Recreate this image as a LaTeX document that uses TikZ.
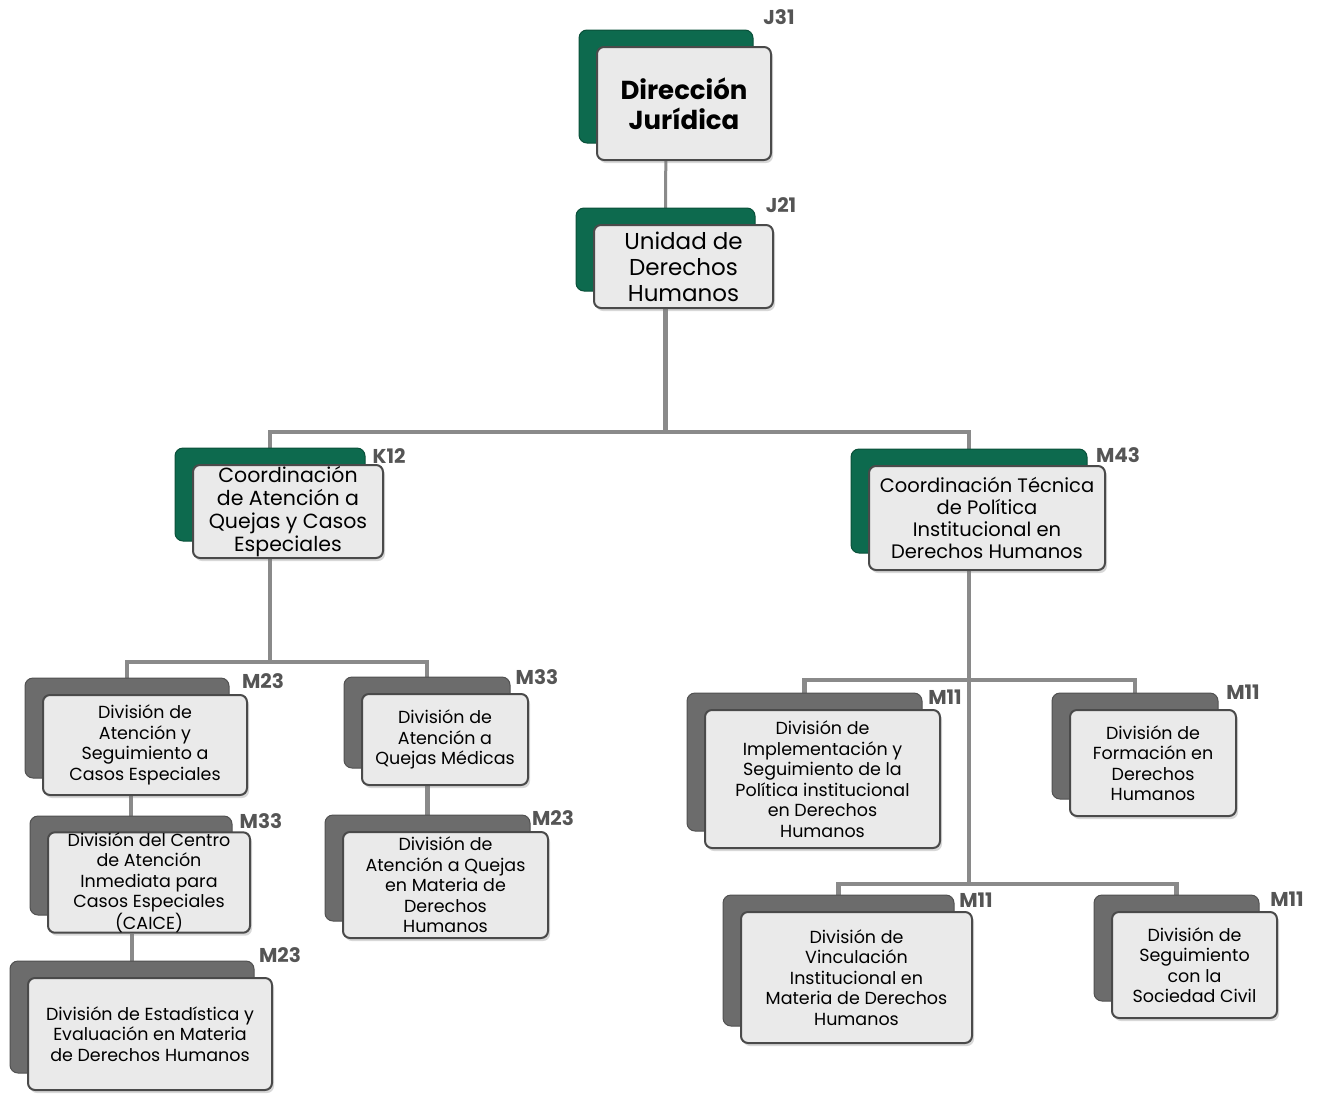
\documentclass[tikz,border=0pt]{standalone}
\usepackage{fontspec}
\setmainfont{Poppins}
\usetikzlibrary{shadows,calc}
\pgfdeclarelayer{bg}\pgfsetlayers{bg,main}
\definecolor{dgreen}{HTML}{0D6A4E}
\definecolor{bgray}{HTML}{6C6C6C}
\definecolor{fbox}{HTML}{EAEAEA}
\definecolor{bord}{HTML}{4A4A4A}
\definecolor{conncol}{HTML}{8A8A8A}
\definecolor{codecol}{HTML}{555555}
\tikzset{
  backbox/.style={rounded corners=8pt, inner sep=0pt, draw=#1!75!black, line width=1pt, fill=#1},
  frontbox/.style={rounded corners=7pt, fill=fbox, draw=bord, line width=2pt, inner sep=0pt, align=center,
    drop shadow={opacity=0.3, shadow xshift=2pt, shadow yshift=-3pt}},
  codelab/.style={font=\bfseries\fontsize{20}{22}\selectfont, text=codecol, inner sep=0pt},
  conn/.style={draw=conncol, line width=4.5pt},
  thinconn/.style={draw=conncol, line width=3pt},
}
% name, x1, y1, x2, y2, back colour, font, text
\newcommand\orgunit[8]{%
  \node[backbox=#6, minimum width={#4-#2}, minimum height={#5-#3}] (#1b) at ({(#2+#4)/2-18},{(#3+#5)/2-17}) {};
  \node[frontbox, minimum width={#4-#2}, minimum height={#5-#3}, font=#7] (#1) at ({(#2+#4)/2},{(#3+#5)/2}) {#8};
}
\begin{document}
\begin{tikzpicture}[x=1pt,y=-1pt]
\useasboundingbox (0,0) rectangle (1322,1093);

\orgunit{dj}{597}{47}{771}{160}{dgreen}{\bfseries\fontsize{26}{30}\selectfont}{Dirección\\Jurídica}
\orgunit{udh}{594}{225}{773}{308}{dgreen}{\fontsize{23}{26}\selectfont}{Unidad de\\Derechos\\Humanos}
\orgunit{cq}{193}{465}{383}{558}{dgreen}{\fontsize{20.5}{23}\selectfont}{Coordinación\\de Atención a\\Quejas y Casos\\Especiales}
\orgunit{ct}{869}{466}{1105}{570}{dgreen}{\fontsize{19.5}{22}\selectfont}{Coordinación Técnica\\de Política\\Institucional en\\Derechos Humanos}

\orgunit{da}{43}{695}{247}{795}{bgray}{\fontsize{17.5}{20.5}\selectfont}{División de\\Atención y\\Seguimiento a\\Casos Especiales}
\orgunit{dc}{48}{833}{250}{932}{bgray}{\fontsize{17.5}{20.5}\selectfont}{División del Centro\\de Atención\\Inmediata para\\Casos Especiales\\(CAICE)}
\orgunit{de}{28}{978}{272}{1090}{bgray}{\fontsize{17.5}{20.5}\selectfont}{División de Estadística y\\Evaluación en Materia\\de Derechos Humanos}
\orgunit{dm}{362}{694}{528}{785}{bgray}{\fontsize{17.5}{20.5}\selectfont}{División de\\Atención a\\Quejas Médicas}
\orgunit{dq}{343}{832}{548}{938}{bgray}{\fontsize{17.5}{20.5}\selectfont}{División de\\Atención a Quejas\\en Materia de\\Derechos\\Humanos}
\orgunit{di}{705}{710}{940}{848}{bgray}{\fontsize{17.5}{20.5}\selectfont}{División de\\Implementación y\\Seguimiento de la\\Política institucional\\en Derechos\\Humanos}
\orgunit{df}{1070}{710}{1236}{816}{bgray}{\fontsize{17.5}{20.5}\selectfont}{División de\\Formación en\\Derechos\\Humanos}
\orgunit{dv}{741}{912}{972}{1043}{bgray}{\fontsize{17.5}{20.5}\selectfont}{División de\\Vinculación\\Institucional en\\Materia de Derechos\\Humanos}
\orgunit{ds}{1112}{912}{1277}{1018}{bgray}{\fontsize{17.5}{20.5}\selectfont}{División de\\Seguimiento\\con la\\Sociedad Civil}

\node[codelab] (djc) at (779,17) {J31};
\node[codelab] (udhc) at (781,205) {J21};
\node[codelab] (cqc) at (389,456) {K12};
\node[codelab] (ctc) at (1118,455) {M43};
\node[codelab] (dac) at (263,681) {M23};
\node[codelab] (dcc) at (261,821) {M33};
\node[codelab] (dec) at (280,955) {M23};
\node[codelab] (dmc) at (537,677) {M33};
\node[codelab] (dqc) at (553,818) {M23};
\node[codelab] (dic) at (945,697) {M11};
\node[codelab] (dfc) at (1243,692) {M11};
\node[codelab] (dvc) at (976,900) {M11};
\node[codelab] (dsc) at (1287,899) {M11};

\coordinate (busA) at (0,432);
\coordinate (busB) at (0,662);
\coordinate (busC) at (0,680);
\coordinate (busD) at (0,884);

\begin{pgfonlayer}{bg}
\fill[white] (0,0) rectangle (1322,1093);
\draw[thinconn] (djb.center) -- (udhb.center);
\draw[conn] (udhb.center) -- (udhb.center |- busA);
\draw[conn] (cqb.center) -- (cqb.center |- busA) -- (ctb.center |- busA) -- (ctb.center);
\draw[conn] (cqb.center) -- (cqb.center |- busB);
\draw[conn] (dab.center) -- (dab.center |- busB) -- (dmb.center |- busB) -- (dmb.center);
\draw[conn] (dcb.center |- da.south) -- (dcb.center);
\draw[conn] (deb.center |- dc.south) -- (deb.center);
\draw[conn] (dqb.center |- dm.south) -- (dqb.center);
\draw[conn] (ctb.center) -- (ctb.center |- busD);
\draw[conn] (dib.center) -- (dib.center |- busC) -- (dfb.center |- busC) -- (dfb.center);
\draw[conn] (dvb.center) -- (dvb.center |- busD) -- (dsb.center |- busD) -- (dsb.center);
\end{pgfonlayer}
\end{tikzpicture}
\end{document}
